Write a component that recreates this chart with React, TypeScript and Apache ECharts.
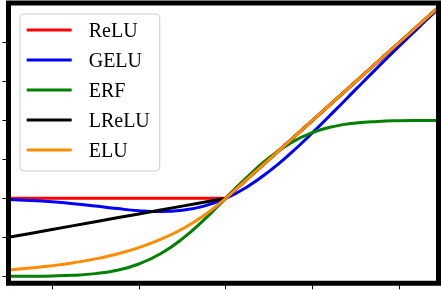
import React, { useEffect, useRef } from "react";
import * as echarts from "echarts";

const xs = [-5, -4.5, -4, -3.5, -3, -2.5, -2, -1.5, -1, -0.5, 0, 0.5, 1, 1.5, 2, 2.5, 3, 3.5, 4, 4.5, 5];
const relu = [0, 0, 0, 0, 0, 0, 0, 0, 0, 0, 0, 0.5, 1, 1.5, 2, 2.5, 3, 3.5, 4, 4.5, 5];
const gelu = [-0.031, -0.055, -0.091, -0.14, -0.2, -0.264, -0.317, -0.34, -0.309, -0.201, 0, 0.299, 0.691, 1.16, 1.683, 2.236, 2.8, 3.36, 3.909, 4.445, 4.969];
const erf = [-1.999, -1.997, -1.991, -1.973, -1.932, -1.846, -1.685, -1.422, -1.041, -0.553, 0, 0.553, 1.041, 1.422, 1.685, 1.846, 1.932, 1.973, 1.991, 1.997, 1.999];
const lrelu = [-1, -0.9, -0.8, -0.7, -0.6, -0.5, -0.4, -0.3, -0.2, -0.1, 0, 0.5, 1, 1.5, 2, 2.5, 3, 3.5, 4, 4.5, 5];
const elu = [-1.836, -1.789, -1.729, -1.652, -1.554, -1.427, -1.264, -1.055, -0.787, -0.442, 0, 0.5, 1, 1.5, 2, 2.5, 3, 3.5, 4, 4.5, 5];

const names = ["ReLU", "GELU", "ERF", "LReLU", "ELU"];
const colors = ["#ff0000", "#0000ff", "#008000", "#000000", "#ff8c00"];
const seriesValues = [relu, gelu, erf, lrelu, elu];
const smoothFlags = [false, true, true, false, true];
const xTicks = [-4, -2, 0, 2, 4];
const yTicks = [-2, -1, 0, 1, 2, 3, 4];

export default function App() {
  const ref = useRef<HTMLDivElement>(null);
  useEffect(() => {
    if (!ref.current) return;
    const chart = echarts.init(ref.current, null, { renderer: "svg" });
    const gl = 8.5, gt = 3, gr = 2.5, gb = 6.7;
    const W = 441, H = 290;
    chart.setOption({
      animation: false,
      grid: { left: gl, right: gr, top: gt, bottom: gb, containLabel: false },
      xAxis: {
        type: "value",
        min: -5,
        max: 4.9,
        position: "bottom",
        axisLine: { show: false, onZero: false },
        axisLabel: { show: false },
        splitLine: { show: false },
        axisTick: { show: true, customValues: xTicks, length: 6, lineStyle: { color: "#000", width: 1 } },
      },
      yAxis: {
        type: "value",
        min: -2.18,
        max: 5.01,
        position: "left",
        axisLine: { show: false, onZero: false },
        axisLabel: { show: false },
        splitLine: { show: false },
        axisTick: { show: true, customValues: yTicks, length: 6, lineStyle: { color: "#000", width: 1 } },
      },
      legend: {
        left: 20,
        top: 14,
        orient: "vertical",
        icon: "rect",
        itemWidth: 45,
        itemHeight: 3,
        itemGap: 10,
        padding: [6, 10, 11, 6.7],
        backgroundColor: "#ffffff",
        borderColor: "#cccccc",
        borderWidth: 1,
        borderRadius: 4,
        textStyle: {
          fontFamily: "Liberation Serif",
          fontSize: 20,
          lineHeight: 20,
          color: "#000",
          padding: [0, 0, 0, 12],
        },
        data: names,
      },
      graphic: [
        {
          type: "rect",
          z: 100,
          shape: { x: gl, y: gt, width: W - gl - gr, height: H - gt - gb },
          style: { fill: "none", stroke: "#000", lineWidth: 5 },
        },
      ],
      series: names.map((n, i) => ({
        name: n,
        type: "line",
        data: xs.map((x, j) => [x, seriesValues[i][j]]),
        smooth: smoothFlags[i],
        showSymbol: false,
        symbol: "none",
        color: colors[i],
        lineStyle: { color: colors[i], width: 3 },
        clip: true,
      })),
    });
    return () => chart.dispose();
  }, []);
  return <div ref={ref} style={{ position: "fixed", left: 0, top: 0, width: 441, height: 290 }} />;
}
